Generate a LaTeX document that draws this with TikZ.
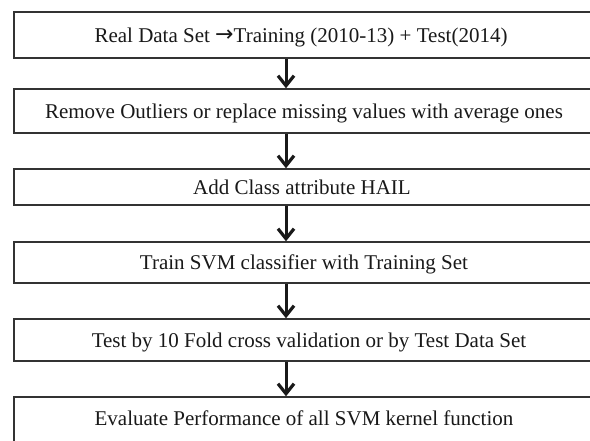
\documentclass[tikz,border=0pt]{standalone}
\usepackage{fontspec}
\setmainfont{Liberation Serif}
\newfontfamily\symfont{DejaVu Sans}
\usetikzlibrary{arrows.meta}
\newcommand{\boxfont}{\fontsize{21}{24}\selectfont}
\begin{document}
\begin{tikzpicture}[x=1pt,y=-1pt,
  stepbox/.style={draw=black!80, line width=1.5pt, fill=white, inner sep=0pt,
    minimum width=580pt},
  steptext/.style={text=black!90, font=\boxfont, anchor=base, inner sep=0pt},
  flow/.style={line width=3pt, black!90,
    -{Straight Barb[length=10pt,width=16pt,line width=3.2pt]}}]
  \useasboundingbox (0,0) rectangle (590,440);
  \fill[white] (0,0) rectangle (590,440);
  \coordinate (ax) at (286,0);
  % process boxes, top to bottom
  \node[stepbox, minimum height=46pt] (b1) at (304,35) {};
  \node[stepbox, minimum height=44pt] (b2) at (304,111) {};
  \node[stepbox, minimum height=36pt] (b3) at (304,187) {};
  \node[stepbox, minimum height=41pt] (b4) at (304,262.5) {};
  \node[stepbox, minimum height=42pt] (b5) at (304,340) {};
  \node[stepbox, minimum height=50pt] (b6) at (304,422) {};
  % step labels, set on their baselines
  \node[steptext] (t1) at (301,42) {Real Data Set {\symfont\fontsize{22}{24}\selectfont\raisebox{0.5pt}{→}}Training (2010-13) + Test(2014)};
  \node[steptext] (t2) at (304,118) {Remove Outliers or replace missing values with average ones};
  \node[steptext] (t3) at (302,194) {Add Class attribute HAIL};
  \node[steptext] (t4) at (304,269) {Train SVM classifier with Training Set};
  \node[steptext] (t5) at (309,347) {Test by 10 Fold cross validation or by Test Data Set};
  \node[steptext] (t6) at (304,425) {Evaluate Performance of all SVM kernel function};
  % connectors
  \draw[flow] (b1.south -| ax) -- (b2.north -| ax);
  \draw[flow] (b2.south -| ax) -- (b3.north -| ax);
  \draw[flow] (b3.south -| ax) -- (b4.north -| ax);
  \draw[flow] (b4.south -| ax) -- (b5.north -| ax);
  \draw[flow] (b5.south -| ax) -- (b6.north -| ax);
\end{tikzpicture}
\end{document}
